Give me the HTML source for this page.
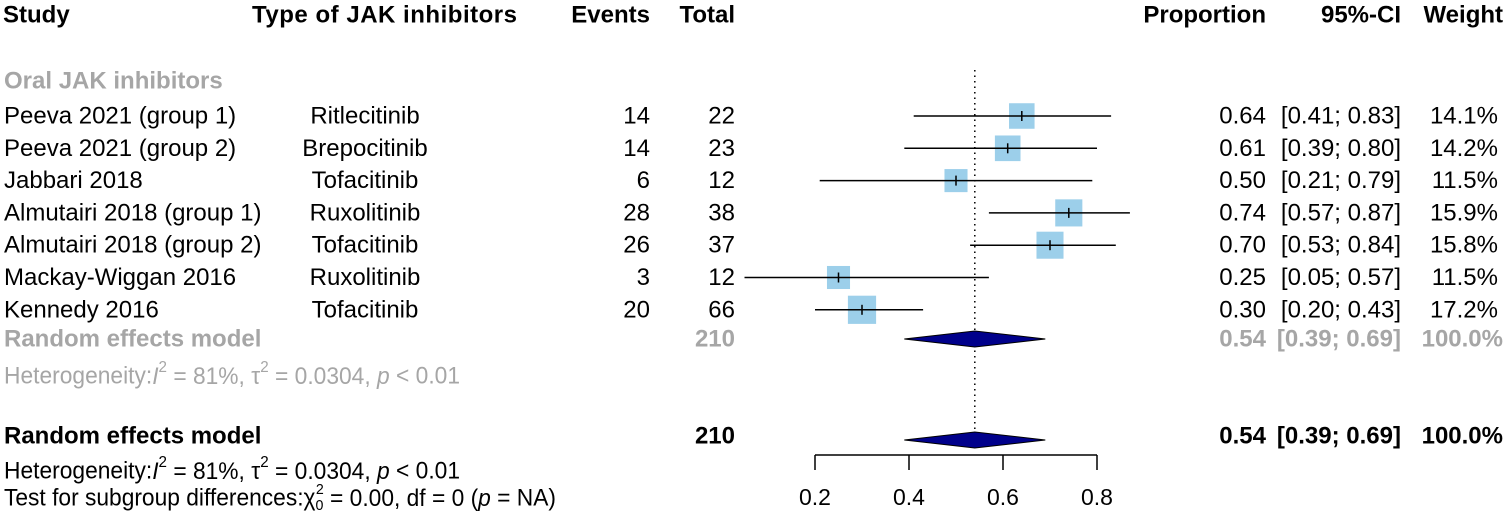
<!DOCTYPE html>
<html><head><meta charset="utf-8"><style>
html,body{margin:0;padding:0;background:#fff;}
svg{display:block;font-family:"Liberation Sans",Arial,sans-serif;}
.b{font-weight:bold;}
.g{fill:#a6a6a6;}
</style></head><body>
<svg id="chart" width="1505" height="520" viewBox="0 0 1505 520" xmlns="http://www.w3.org/2000/svg">
<g font-size="24" dominant-baseline="central">
<text class="b" x="3" y="15">Study</text>
<text class="b" x="252" y="15" textLength="265">Type of JAK inhibitors</text>
<text class="b" x="650" y="15" text-anchor="end">Events</text>
<text class="b" x="735" y="15" text-anchor="end">Total</text>
<text class="b" x="1266" y="15" text-anchor="end">Proportion</text>
<text class="b" x="1401" y="15" text-anchor="end">95%-CI</text>
<text class="b" x="1503" y="15" text-anchor="end">Weight</text>
<text class="b g" x="4" y="81">Oral JAK inhibitors</text>
</g>
<g id="rows" font-size="24" dominant-baseline="central"></g>
<g id="marks"></g>
<g font-size="24" dominant-baseline="central">
<text class="b g" x="4" y="339">Random effects model</text>
<text class="b g" x="735" y="339" text-anchor="end">210</text>
<text class="b g" x="1266" y="339" text-anchor="end">0.54</text>
<text class="b g" x="1401" y="339" text-anchor="end">[0.39; 0.69]</text>
<text class="b g" x="1503" y="339" text-anchor="end">100.0%</text>
<text class="g" x="4" y="376" textLength="456" lengthAdjust="spacingAndGlyphs">Heterogeneity:<tspan font-style="italic">I</tspan><tspan dy="-9" font-size="16">2</tspan><tspan dy="9"> = 81%, τ</tspan><tspan dy="-9" font-size="16">2</tspan><tspan dy="9"> = 0.0304, </tspan><tspan font-style="italic">p</tspan> &lt; 0.01</text>
<text class="b" x="4" y="436">Random effects model</text>
<text class="b" x="735" y="436" text-anchor="end">210</text>
<text class="b" x="1266" y="436" text-anchor="end">0.54</text>
<text class="b" x="1401" y="436" text-anchor="end">[0.39; 0.69]</text>
<text class="b" x="1503" y="436" text-anchor="end">100.0%</text>
<text x="4" y="471" textLength="456" lengthAdjust="spacingAndGlyphs">Heterogeneity:<tspan font-style="italic">I</tspan><tspan dy="-9" font-size="16">2</tspan><tspan dy="9"> = 81%, τ</tspan><tspan dy="-9" font-size="16">2</tspan><tspan dy="9"> = 0.0304, </tspan><tspan font-style="italic">p</tspan> &lt; 0.01</text>
<text x="4" y="498" textLength="552" lengthAdjust="spacingAndGlyphs">Test for subgroup differences:χ<tspan dy="7" font-size="15">0</tspan><tspan dy="-16" font-size="15" dx="-8">2</tspan><tspan dy="9"> = 0.00, df = 0 (</tspan><tspan font-style="italic">p</tspan> = NA)</text>
</g>
</svg>
<script>
const studies = ["Peeva 2021 (group 1)","Peeva 2021 (group 2)","Jabbari 2018","Almutairi 2018 (group 1)","Almutairi 2018 (group 2)","Mackay-Wiggan 2016","Kennedy 2016"];
const types = ["Ritlecitinib","Brepocitinib","Tofacitinib","Ruxolitinib","Tofacitinib","Ruxolitinib","Tofacitinib"];
const events = [14,14,6,28,26,3,20];
const totals = [22,23,12,38,37,12,66];
const props = [0.64,0.61,0.50,0.74,0.70,0.25,0.30];
const lowers = [0.41,0.39,0.21,0.57,0.53,0.05,0.20];
const uppers = [0.83,0.80,0.79,0.87,0.84,0.57,0.43];
const weights = [14.1,14.2,11.5,15.9,15.8,11.5,17.2];
const pooled = [0.54,0.39,0.69];
const ticks = [0.2,0.4,0.6,0.8];

const NS="http://www.w3.org/2000/svg";
const xs = p => 815 + (p-0.2)*470;
const rowY = i => 116 + i*32.3;
function mk(tag, attrs, parent){const e=document.createElementNS(NS,tag);for(const k in attrs)e.setAttribute(k,attrs[k]);parent.appendChild(e);return e;}
const rows=document.getElementById('rows'), marks=document.getElementById('marks');
function txt(x,y,s,anchor,name){const t=mk('text',{x:x,y:y,'text-anchor':anchor},rows);t.textContent=s;


return t;}
const ref=mk('line',{x1:xs(pooled[0]),x2:xs(pooled[0]),y1:70,y2:430,stroke:'#000','stroke-width':1.5,'stroke-dasharray':'1.5 4'},marks);


studies.forEach((s,i)=>{
  const y=rowY(i);
  txt(4,y,s,'start','study-name');
  txt(365,y,types[i],'middle','jak-type');
  txt(650,y,String(events[i]),'end','events-value');
  txt(735,y,String(totals[i]),'end','total-value');
  txt(1266,y,props[i].toFixed(2),'end','proportion-value');
  txt(1401,y,'['+lowers[i].toFixed(2)+'; '+uppers[i].toFixed(2)+']','end','ci-value');
  txt(1498,y,weights[i].toFixed(1)+'%','end','weight-value');
  const side=6.8*Math.sqrt(weights[i]);
  const r=mk('rect',{x:xs(props[i])-side/2,y:y-side/2,width:side,height:side,fill:'#9ccfea'},marks);
  
  
  const l=mk('line',{x1:xs(lowers[i]),x2:xs(uppers[i]),y1:y,y2:y,stroke:'#000','stroke-width':1.5},marks);
  
  
  const c=mk('line',{x1:xs(props[i]),x2:xs(props[i]),y1:y-5,y2:y+5,stroke:'#000','stroke-width':1.5},marks);
  
  
});
[339,440].forEach((y,k)=>{
  const d=mk('polygon',{points:`${xs(pooled[1])},${y} ${xs(pooled[0])},${y-8} ${xs(pooled[2])},${y} ${xs(pooled[0])},${y+8}`,fill:'#00008b',stroke:'#000','stroke-width':1},marks);
  
  
});
const ax=mk('line',{x1:xs(ticks[0]),x2:xs(ticks[ticks.length-1]),y1:455,y2:455,stroke:'#000','stroke-width':1.5},marks);


ticks.forEach(t=>{
  const tk=mk('line',{x1:xs(t),x2:xs(t),y1:455,y2:470,stroke:'#000','stroke-width':1.5},marks);
  
  
  const lb=mk('text',{x:xs(t),y:497,'text-anchor':'middle','font-size':23,'dominant-baseline':'central'},marks);
  lb.textContent=t.toFixed(1);
  
  
});
</script>
</body></html>
